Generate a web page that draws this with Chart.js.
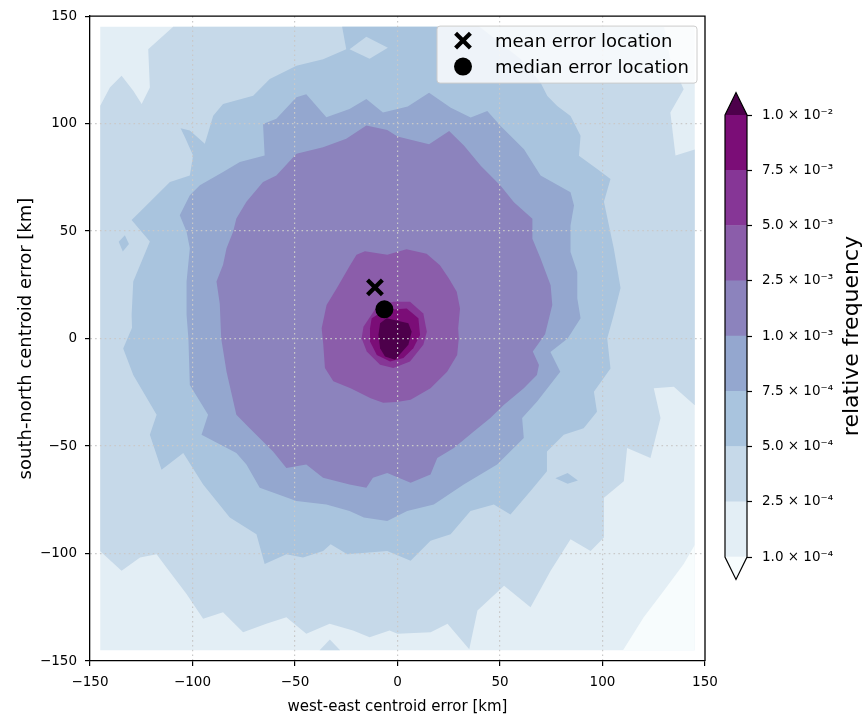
<!DOCTYPE html>
<html><head><meta charset="utf-8">
<script src="https://cdn.jsdelivr.net/npm/chart.js@4.4.0/dist/chart.umd.min.js"></script>
<style>
html,body{margin:0;padding:0;background:#fff;}
#wrap{position:relative;width:863px;height:717px;}
#main{position:absolute;left:0;top:0;}
#cbar{position:absolute;left:705px;top:0;}
</style></head><body>
<div id="wrap"><canvas id="main" width="863" height="717"></canvas><canvas id="cbar" width="158" height="717"></canvas></div>
<script>
// ---------------- data ----------------
const xTicks = [-150, -100, -50, 0, 50, 100, 150];
const xTickLabels = ['\u2212150', '\u2212100', '\u221250', '0', '50', '100', '150'];
const yTicks = [-150, -100, -50, 0, 50, 100, 150];
const yTickLabels = ['\u2212150', '\u2212100', '\u221250', '0', '50', '100', '150'];

// contour levels (relative frequency) and colour-bar labels
const levels = [1e-4, 2.5e-4, 5e-4, 7.5e-4, 1e-3, 2.5e-3, 5e-3, 7.5e-3, 1e-2];
const levelLabels = ['1.0 \u00d7 10\u207b\u2074', '2.5 \u00d7 10\u207b\u2074', '5.0 \u00d7 10\u207b\u2074', '7.5 \u00d7 10\u207b\u2074',
  '1.0 \u00d7 10\u207b\u00b3', '2.5 \u00d7 10\u207b\u00b3', '5.0 \u00d7 10\u207b\u00b3', '7.5 \u00d7 10\u207b\u00b3', '1.0 \u00d7 10\u207b\u00b2'];
// band colours: under, 8 bands, over (BuPu)
const bandColors = ['#f7fcfd', '#e3eef5', '#c6d9e9', '#a9c4de', '#94a7cf', '#8c83bd', '#8b5daa', '#863696', '#7b0d77', '#4d004b'];

// error locations [km]
const meanError = [-11, 23.8];
const medianError = [-6.4, 13.6];

// domain of the histogram [km]
const domainRect = [[-145, -145], [145, -145], [145, 145], [-145, 145]];

// contour polygons [x km, y km]
const below1e4 = [[145, -96], [139.6, -104.9], [129.9, -117.3], [120.1, -129.6], [112, -142], [110, -145], [145, -145]];
const ge2p5e4 = [[-109.4, 145], [130, 145], [133, 130], [139.6, 116], [133.1, 105.2], [135.6, 85.2], [145, 88],
  [145, -31], [134.8, -22.4], [125, -23.1], [128.3, -37], [123.4, -55.6], [112, -50.9], [110.4, -66.4], [100.7, -74.1],
  [100.7, -92.6], [94.2, -98.8], [84.4, -93.4], [74.7, -108], [64.9, -125], [52, -115], [39, -126.5], [35, -144.5],
  [24.4, -132.7], [16.2, -136.6], [0, -137.3], [-3.9, -135.8], [-13.6, -138.9], [-21.7, -135.8], [-33.1, -132.7],
  [-44.5, -137.3], [-54.2, -129.6], [-64, -132.7], [-75.3, -136.6], [-85.1, -127.3], [-94.8, -130.4], [-102.9, -118.8],
  [-112.7, -106.5], [-117.5, -100.3], [-125.6, -101.9], [-134.6, -108], [-145, -99],
  [-145, 108.3], [-140.3, 116.8], [-134.6, 122.2], [-128.9, 115.3], [-124.8, 109.1], [-120.8, 116.8], [-121.6, 134.6]];
const notch2p5e4 = [[-38, -145], [-33, -140], [-28, -145]];
const ge5e4 = [[-27, 145], [40, 145], [60, 130], [69.8, 119], [73.1, 112.8], [77.9, 108.2], [84.4, 103.5], [89.3, 94.3],
  [88.5, 85], [97.4, 78.9], [103.9, 74.2], [100.7, 63.6], [105.5, 42], [108.8, 23.5], [105.5, 11.1], [102.3, 0],
  [103.9, -13.9], [95.8, -24.7], [97.3, -34], [90.8, -41.7], [81.1, -44.8], [72.9, -52.5], [72.9, -61.7], [64.8, -71],
  [55.1, -81.8], [47, -77.2], [35.6, -80.2], [25.9, -91], [16.1, -94.1], [6.4, -103.4], [-5, -98.8], [-24.5, -100.3],
  [-32.6, -95.7], [-36.3, -98.8], [-46.1, -101.9], [-54.2, -100.3], [-64.8, -104.9], [-68.8, -91], [-81.8, -83.3],
  [-94.8, -67.9], [-104.5, -53.2], [-115.1, -61], [-120.8, -44.8], [-117.5, -35.5], [-128.9, -17], [-133.8, -4.6],
  [-129.5, 5], [-129.7, 11.1], [-128.9, 26.5], [-120.8, 45.1], [-129.7, 55.1], [-125.6, 59], [-111, 72.8],
  [-101.3, 75.9], [-99.7, 85.2], [-103.7, 93.7], [-105.8, 97.8], [-101.3, 96.8], [-94, 90.6], [-89.9, 103.7],
  [-85.1, 109.1], [-70.4, 113], [-62.3, 120.7], [-49.3, 126.9], [-36.3, 129.9], [-25, 134.6]];
const hole5e4 = [[-23.4, 134.6], [-15.2, 140.4], [-4.7, 135.3], [-13.6, 130.2]];
const islandW5e4 = [[-136, 45], [-133, 48], [-131, 44], [-134, 40.5]];
const islandE5e4 = [[77, -65], [83, -62.5], [88, -66], [83, -67.5]];
const ge7p5e4 = [[5, 108], [15.4, 114.3], [26, 107.4], [35.7, 102.8], [43.8, 105.9], [50.3, 98.9], [61.7, 88.1],
  [69.8, 75.8], [84.4, 68.1], [86.1, 61.9], [84.4, 52.6], [84.4, 40.3], [87.7, 31], [87.7, 18.7], [89.3, 9.4], [83, 0],
  [74.6, -6.2], [79.4, -15.4], [68.1, -29.3], [60.8, -37], [61.6, -46.3], [48.6, -58.6], [32.3, -67.9], [17.7, -77.2],
  [4.7, -80.2], [-5, -84.9], [-16.4, -83.3], [-23.4, -80.2], [-34.7, -77.2], [-49.3, -75.6], [-67.2, -69.4],
  [-73.7, -58.6], [-78.6, -53.2], [-95.6, -44.8], [-92.4, -35.5], [-101.3, -21.6], [-102, 0], [-102.9, 11.1],
  [-102.9, 26.5], [-101.3, 42], [-102.9, 49.7], [-106.2, 57.4], [-101.3, 66.7], [-96.4, 71.3], [-85.1, 77.5],
  [-76.9, 82.1], [-64.8, 85.2], [-65.6, 99.8], [-59.1, 102.2], [-49.3, 112.2], [-44.5, 113.7], [-34.7, 102.9],
  [-23.4, 106.8], [-15.2, 111.4], [-7.1, 105.2]];
const ge1e3 = [[-5, 97], [0, 94], [15.4, 90.4], [25.2, 96.6], [32.5, 89.7], [40.6, 80.4], [50.3, 71.1], [56.8, 63.4],
  [65.8, 55.7], [65.8, 46.4], [69.8, 37.2], [74.7, 24.8], [75.5, 15.6], [72, 2], [66, -6], [69, -12.3], [68, -17],
  [61.6, -23.1], [51.8, -30.9], [45.3, -37], [37.2, -43.2], [27.5, -50.9], [19.4, -55.6], [16.1, -63.3], [6.4, -67.1],
  [-5, -62.5], [-12, -64.8], [-15.2, -69.4], [-23.4, -67.9], [-36.3, -64.8], [-44.5, -58.6], [-54.2, -60.2],
  [-60.7, -52.5], [-72.1, -41.7], [-78.6, -35.5], [-83.4, -15.4], [-86, 0], [-86.7, 16.2], [-88.3, 26.5], [-85.1, 34.3],
  [-83.4, 42], [-80.2, 49.7], [-78.6, 55.9], [-73.7, 63.6], [-65.6, 72.8], [-59.1, 75.9], [-49.3, 86], [-36.3, 89],
  [-25, 92.9], [-15.2, 99.1]];
const ge2p5e3 = [[-15.9, 40.6], [-5, 39], [4.4, 41.5], [14.2, 39.5], [20.7, 34.1], [25, 28], [28.9, 21.8], [30.5, 14],
  [29.6, 4.8], [29.9, 0], [29.1, -7.7], [24.2, -15.4], [16.1, -23.1], [6.4, -28.5], [-0.4, -29.5], [-7, -29.9],
  [-13.1, -27.8], [-22.9, -23.1], [-31.3, -19.9], [-35.4, -13.7], [-36.2, -2.9], [-37, 4.8], [-34.6, 15.6],
  [-29.7, 23.3], [-23.2, 34], [-20, 39]];
const ge5e3 = [[-10.1, 14.8], [-2, 17.1], [6.1, 17.1], [12.6, 11.7], [14.3, 3.2], [12.6, -2.9], [6.1, -10.7], [-2, -13.7],
  [-8.5, -12.2], [-15, -6], [-17.5, 0.1], [-16.6, 5.5]];
const ge7p5e3 = [[-12.6, 9.4], [-6.1, 13.3], [4.5, 14], [10.2, 9.4], [11, 1.7], [7.7, -4.5], [2.9, -9.1], [-3.6, -10.7],
  [-10.1, -7.6], [-13.4, -1.4], [-13.4, 4.8]];
const ge1e2 = [[-8.5, 7.1], [-5.3, 9.4], [5.3, 7.1], [6.9, 3.2], [5.3, -2.9], [-1.2, -9.9], [-6.1, -8.3], [-8.5, -4.5], [-9.3, 1.7]];

// drawing order: polygon -> colour band index
const layers = [
  [domainRect, 1], [below1e4, 0], [ge2p5e4, 2], [notch2p5e4, 2], [ge5e4, 3], [hole5e4, 2], [islandW5e4, 3],
  [islandE5e4, 3], [ge7p5e4, 4], [ge1e3, 5], [ge2p5e3, 6], [ge5e3, 7], [ge7p5e3, 8], [ge1e2, 9]
];

// ---------------- chart ----------------
const FONT = "'DejaVu Sans', sans-serif";
const N = layers.length;
const datasets = layers.map(([poly, band], i) => ({
  type: 'line',
  data: poly.map(([x, y]) => ({x, y})),
  backgroundColor: bandColors[band],
  borderColor: 'rgba(0,0,0,0)',
  borderWidth: 0,
  pointRadius: 0,
  pointHoverRadius: 0,
  tension: 0,
  fill: 'shape',
  order: 100 + N - i
}));
datasets.push({
  type: 'line', label: 'mean error location', showLine: false,
  data: [{x: meanError[0], y: meanError[1]}],
  pointStyle: 'crossRot', pointRadius: 10.5, pointBorderWidth: 4.2, pointBorderColor: '#000', pointBackgroundColor: '#000',
  order: 1
});
datasets.push({
  type: 'line', label: 'median error location', showLine: false,
  data: [{x: medianError[0], y: medianError[1]}],
  pointStyle: 'circle', pointRadius: 9, pointBorderWidth: 0, pointBorderColor: '#000', pointBackgroundColor: '#000',
  order: 0
});

const gridColor = (ctx) => (ctx.tick && Math.abs(ctx.tick.value) === 150) ? 'rgba(0,0,0,0)' : '#c9c9c9';

const framePlugin = {
  id: 'frame',
  afterDraw(chart) {
    const {ctx, chartArea: a} = chart;
    ctx.save();
    ctx.strokeStyle = '#000';
    ctx.lineWidth = 1.3;
    ctx.beginPath();
    ctx.moveTo(a.left, a.top); ctx.lineTo(a.right, a.top); ctx.lineTo(a.right, a.bottom);
    ctx.stroke();
    // legend box (upper right)
    const bx = a.right - 268, by = a.top + 10, bw = 260, bh = 57;
    ctx.beginPath();
    ctx.roundRect(bx, by, bw, bh, 3);
    ctx.fillStyle = 'rgba(255,255,255,0.8)';
    ctx.fill();
    ctx.strokeStyle = '#cccccc';
    ctx.lineWidth = 1;
    ctx.stroke();
    const sx = bx + 26, y1 = by + 14.5, y2 = by + 40.5;
    ctx.strokeStyle = '#000'; ctx.fillStyle = '#000';
    ctx.lineWidth = 4.2; ctx.lineCap = 'butt';
    const d = 7.4;
    ctx.beginPath();
    ctx.moveTo(sx - d, y1 - d); ctx.lineTo(sx + d, y1 + d);
    ctx.moveTo(sx - d, y1 + d); ctx.lineTo(sx + d, y1 - d);
    ctx.stroke();
    ctx.beginPath(); ctx.arc(sx, y2, 9, 0, Math.PI * 2); ctx.fill();
    ctx.font = '18px ' + FONT;
    ctx.textBaseline = 'alphabetic';
    ctx.textAlign = 'left';
    ctx.fillText(datasets[N].label, bx + 58, by + 20.5);
    ctx.fillText(datasets[N + 1].label, bx + 58, by + 46.5);
    ctx.restore();
  }
};

const axisGrid = {z: 1, color: gridColor, lineWidth: 1.2, tickColor: '#000', tickLength: 5, tickWidth: 1.2, tickBorderDash: []};
const axisBorder = {z: 1, display: true, color: '#000', width: 1.3, dash: [1.6, 3.2]};

new Chart(document.getElementById('main'), {
  type: 'line',
  data: {datasets},
  options: {
    responsive: false, animation: false, devicePixelRatio: 1,
    events: [],
    layout: {padding: {left: 0, top: 13, right: 158, bottom: 0}},
    plugins: {legend: {display: false}, tooltip: {enabled: false}},
    scales: {
      x: {
        type: 'linear', min: -150, max: 150,
        afterBuildTicks: (s) => { s.ticks = xTicks.map(v => ({value: v})); },
        afterFit: (s) => { s.height = 56; },
        ticks: {callback: (v) => xTickLabels[xTicks.indexOf(v)], font: {family: FONT, size: 13.5}, color: '#000', padding: 8, maxRotation: 0, autoSkip: false},
        grid: axisGrid,
        border: axisBorder,
        title: {display: true, text: 'west-east centroid error [km]', font: {family: FONT, size: 15}, color: '#000', padding: {top: 2, bottom: 1}}
      },
      y: {
        type: 'linear', min: -150, max: 150,
        afterBuildTicks: (s) => { s.ticks = yTicks.map(v => ({value: v})); },
        afterFit: (s) => { s.width = 90; },
        ticks: {callback: (v) => yTickLabels[yTicks.indexOf(v)], font: {family: FONT, size: 13.5}, color: '#000', padding: 8, autoSkip: false},
        grid: axisGrid,
        border: axisBorder,
        title: {display: true, text: 'south-north centroid error [km]', font: {family: FONT, size: 18}, color: '#000', padding: {top: 16, bottom: 0}}
      }
    }
  },
  plugins: [framePlugin]
});

// ---------------- colour bar ----------------
const cbPlugin = {
  id: 'cbExtend',
  afterDraw(chart) {
    const {ctx, chartArea: a} = chart;
    const cx = (a.left + a.right) / 2, ext = 22.5;
    ctx.save();
    ctx.fillStyle = bandColors[bandColors.length - 1];
    ctx.beginPath(); ctx.moveTo(a.left, a.top); ctx.lineTo(cx, a.top - ext); ctx.lineTo(a.right, a.top); ctx.closePath(); ctx.fill();
    ctx.fillStyle = bandColors[0];
    ctx.beginPath(); ctx.moveTo(a.left, a.bottom); ctx.lineTo(cx, a.bottom + ext); ctx.lineTo(a.right, a.bottom); ctx.closePath(); ctx.fill();
    ctx.strokeStyle = '#000'; ctx.lineWidth = 1.2; ctx.lineJoin = 'miter';
    ctx.beginPath();
    ctx.moveTo(a.left, a.top); ctx.lineTo(cx, a.top - ext); ctx.lineTo(a.right, a.top);
    ctx.lineTo(a.right, a.bottom); ctx.lineTo(cx, a.bottom + ext); ctx.lineTo(a.left, a.bottom);
    ctx.closePath(); ctx.stroke();
    ctx.translate(147, (a.top + a.bottom) / 2);
    ctx.rotate(-Math.PI / 2);
    ctx.font = '22px ' + FONT;
    ctx.fillStyle = '#000'; ctx.textAlign = 'center'; ctx.textBaseline = 'middle';
    ctx.fillText('relative frequency', 0, 0);
    ctx.restore();
  }
};

new Chart(document.getElementById('cbar'), {
  type: 'bar',
  data: {
    labels: [''],
    datasets: bandColors.slice(1, levels.length).map((c, i) => ({
      label: levelLabels[i] + ' \u2013 ' + levelLabels[i + 1],
      data: [1], backgroundColor: c, borderWidth: 0, barPercentage: 1, categoryPercentage: 1
    }))
  },
  options: {
    responsive: false, animation: false, devicePixelRatio: 1, events: [],
    layout: {padding: {left: 20, top: 115, right: 0, bottom: 160}},
    plugins: {legend: {display: false}, tooltip: {enabled: false}},
    scales: {
      x: {display: false, stacked: true},
      y: {
        stacked: true, position: 'right', min: 0, max: levels.length - 1,
        afterBuildTicks: (s) => { s.ticks = levels.map((v, i) => ({value: i})); },
        afterFit: (s) => { s.width = 116; },
        ticks: {callback: (v) => levelLabels[v], font: {family: FONT, size: 13.5}, color: '#000', padding: 10, autoSkip: false},
        grid: {drawOnChartArea: false, tickLength: 5, tickColor: '#000', tickWidth: 1.2, tickBorderDash: []},
        border: {display: false}
      }
    }
  },
  plugins: [cbPlugin]
});
</script>
</body></html>
